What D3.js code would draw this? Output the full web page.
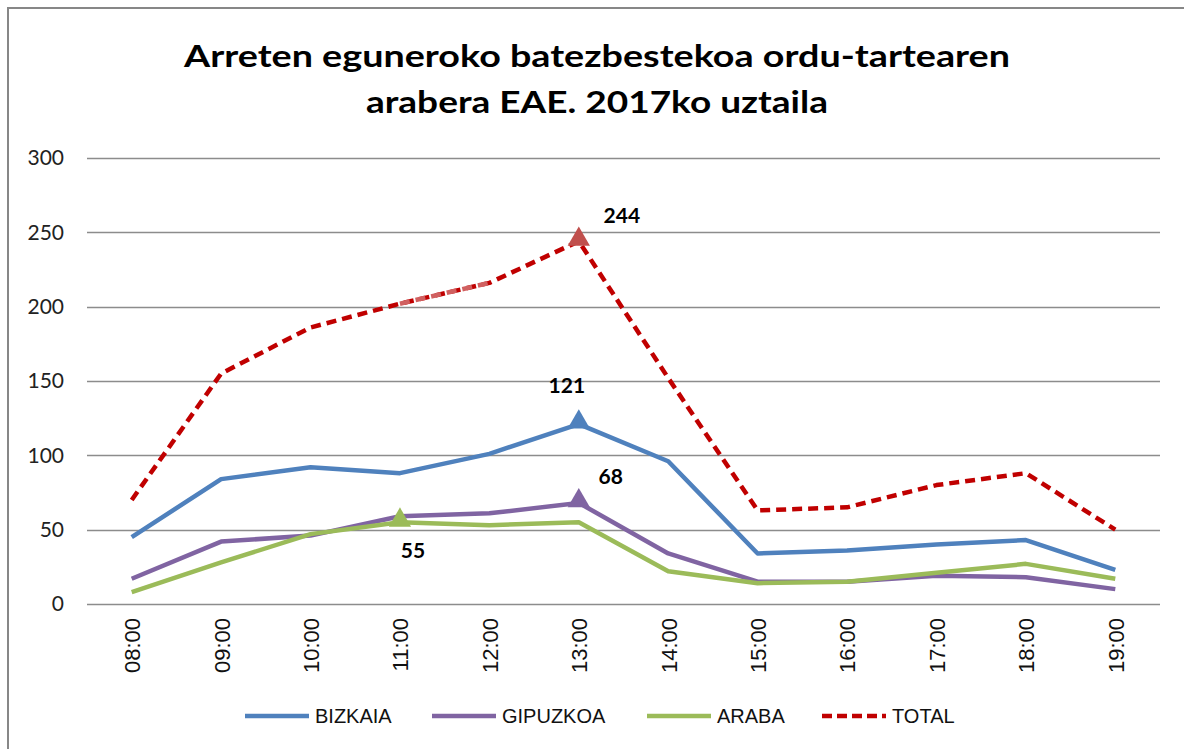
<!DOCTYPE html>
<html lang="eu">
<head>
  <meta charset="UTF-8">
  <title>Arretak ordu-tartearen arabera</title>
  <script src="https://cdnjs.cloudflare.com/ajax/libs/d3/7.8.5/d3.min.js"></script>
  <style>
    body {
      margin: 0;
      background: white;
    }
    svg {
      display: block;
      background: white;
    }
  </style>
</head>
<body>
  <script>
    var hours = ["08:00", "09:00", "10:00", "11:00", "12:00", "13:00",
                 "14:00", "15:00", "16:00", "17:00", "18:00", "19:00"];
    var bizkaia  = [45, 84, 92, 88, 101, 121, 96, 34, 36, 40, 43, 23];
    var gipuzkoa = [17, 42, 46, 59, 61, 68, 34, 15, 15, 19, 18, 10];
    var araba    = [8, 28, 47, 55, 53, 55, 22, 14, 15, 21, 27, 17];
    var total    = [70, 155, 186, 202, 216, 244, 152, 63, 65, 80, 88, 50];
    var yTicks   = [0, 50, 100, 150, 200, 250, 300];

    var w = 1184;
    var h = 749;
    var calibri = "Lato, 'Open Sans', sans-serif";

    var series = [
      {name: "BIZKAIA", values: bizkaia, color: "#4F81BD", mark: 5, label: [-12, -38]},
      {name: "GIPUZKOA", values: gipuzkoa, color: "#8064A2", mark: 5, label: [32, -26]},
      {name: "ARABA", values: araba, color: "#9BBB59", mark: 3, label: [13, 28]},
      {name: "TOTAL", values: total, color: "#C00000", mark: 5, dash: "10,6", label: [43, -26]}
    ];

    var svg = d3.select("body").append("svg")
      .attr("width", w)
      .attr("height", h);

    // outer frame of the chart area
    svg.append("rect")
      .attr("x", 8)
      .attr("y", 8)
      .attr("width", w + 20)
      .attr("height", h + 20)
      .attr("fill", "white")
      .attr("stroke", "#878787")
      .attr("stroke-width", 2);

    var title = svg.append("text")
      .attr("text-anchor", "middle")
      .style("font-family", calibri)
      .style("font-weight", "bold")
      .style("font-size", "31px")
      .attr("fill", "black");
    title.append("tspan").attr("x", 597).attr("y", 67)
      .attr("textLength", 826).attr("lengthAdjust", "spacingAndGlyphs")
      .text("Arreten eguneroko batezbestekoa ordu-tartearen");
    title.append("tspan").attr("x", 597).attr("y", 113)
      .attr("textLength", 462).attr("lengthAdjust", "spacingAndGlyphs")
      .text("arabera EAE. 2017ko uztaila");

    var xScale = d3.scalePoint()
      .domain(hours)
      .range([87, 1160])
      .padding(0.5);

    var yScale = d3.scaleLinear()
      .domain([0, 300])
      .range([604, 158]);

    // gridlines
    svg.append("g")
      .selectAll("line")
      .data(yTicks)
      .enter()
      .append("line")
      .attr("x1", 87)
      .attr("x2", 1160)
      .attr("y1", function(d) { return Math.round(yScale(d)) + 0.5; })
      .attr("y2", function(d) { return Math.round(yScale(d)) + 0.5; })
      .attr("stroke", "#8C8C8C")
      .attr("stroke-width", 1.3);

    var yAxis = d3.axisLeft(yScale)
      .tickValues(yTicks)
      .tickSize(0)
      .tickPadding(0);

    svg.append("g")
      .attr("transform", "translate(64, 0)")
      .call(yAxis)
      .call(function(g) { g.select(".domain").remove(); })
      .selectAll("text")
      .style("font-family", calibri)
      .style("font-size", "21px")
      .attr("fill", "#222");

    var xAxis = d3.axisBottom(xScale)
      .tickSize(0)
      .tickPadding(0);

    svg.append("g")
      .attr("transform", "translate(0, 604)")
      .call(xAxis)
      .call(function(g) { g.select(".domain").remove(); })
      .selectAll("text")
      .attr("transform", "rotate(-90)")
      .attr("text-anchor", "end")
      .attr("x", -14)
      .attr("y", 0)
      .attr("dy", "0.36em")
      .style("font-family", "'Liberation Sans', Arial, sans-serif")
      .style("font-size", "22px")
      .attr("fill", "#111");

    var line = d3.line()
      .x(function(d, i) { return xScale(hours[i]); })
      .y(function(d) { return yScale(d); });

    series.forEach(function(s) {
      svg.append("path")
        .datum(s.values)
        .attr("d", line)
        .attr("fill", "none")
        .attr("stroke", s.color)
        .attr("stroke-width", 4.5)
        .attr("stroke-linejoin", "round")
        .attr("stroke-dasharray", s.dash || null);
    });

    // the 11:00-12:00 stretch of TOTAL is drawn in a lighter red
    svg.append("path")
      .datum(total.slice(3, 5))
      .attr("d", d3.line()
        .x(function(d, i) { return xScale(hours[i + 3]); })
        .y(function(d) { return yScale(d); }))
      .attr("fill", "none")
      .attr("stroke", "#D06060")
      .attr("stroke-width", 4.5)
      .attr("stroke-dasharray", "10,6");

    var tri = d3.symbol().type(d3.symbolTriangle).size(215);

    series.forEach(function(s) {
      var x = xScale(hours[s.mark]);
      var y = yScale(s.values[s.mark]);
      svg.append("path")
        .attr("d", tri)
        .attr("transform", "translate(" + x + "," + (y - 2) + ")")
        .attr("fill", s.name === "TOTAL" ? "#C0504D" : s.color);
      svg.append("text")
        .attr("x", x + s.label[0])
        .attr("y", y + s.label[1])
        .attr("text-anchor", "middle")
        .attr("dy", "0.35em")
        .style("font-family", calibri)
        .style("font-weight", "bold")
        .style("font-size", "21px")
        .text(s.values[s.mark]);
    });

    // legend
    var legendX = [245, 432, 647, 822];
    var legend = svg.append("g");
    series.forEach(function(s, i) {
      legend.append("line")
        .attr("x1", legendX[i])
        .attr("x2", legendX[i] + 64)
        .attr("y1", 716)
        .attr("y2", 716)
        .attr("stroke", s.color)
        .attr("stroke-width", 4.5)
        .attr("stroke-dasharray", s.dash ? "10,5" : null);
      legend.append("text")
        .attr("x", legendX[i] + 70)
        .attr("y", 716)
        .attr("dy", "0.35em")
        .style("font-family", "'Liberation Sans Narrow', 'Liberation Sans', Arial, sans-serif")
        .style("font-size", "20px")
        .attr("fill", "#111")
        .text(s.name);
    });
  </script>
</body>
</html>
